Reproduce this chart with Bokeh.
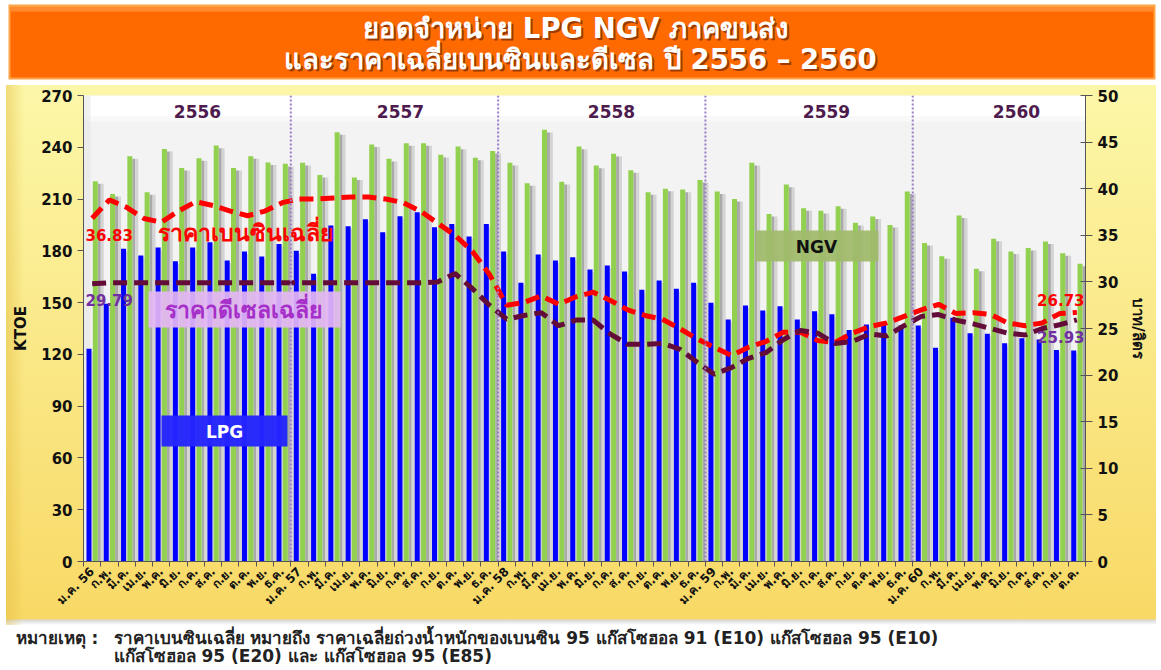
import math
from bokeh.plotting import figure
from bokeh.layouts import column
from bokeh.models import (Range1d, LinearAxis, FixedTicker, Label, BoxAnnotation,
                          Span, ColumnDataSource)
from bokeh.core.properties import value
from bokeh.embed import file_html
from bokeh.resources import INLINE

# ---------------- data ----------------
month_labels = [
    "ม.ค. 56", "ก.พ.", "มี.ค.", "เม.ย.", "พ.ค.", "มิ.ย.", "ก.ค.", "ส.ค.", "ก.ย.", "ต.ค.", "พ.ย.", "ธ.ค.",
    "ม.ค. 57", "ก.พ.", "มี.ค.", "เม.ย.", "พ.ค.", "มิ.ย.", "ก.ค.", "ส.ค.", "ก.ย.", "ต.ค.", "พ.ย.", "ธ.ค.",
    "ม.ค. 58", "ก.พ.", "มี.ค.", "เม.ย.", "พ.ค.", "มิ.ย.", "ก.ค.", "ส.ค.", "ก.ย.", "ต.ค.", "พ.ย.", "ธ.ค.",
    "ม.ค. 59", "ก.พ.", "มี.ค.", "เม.ย.", "พ.ค.", "มิ.ย.", "ก.ค.", "ส.ค.", "ก.ย.", "ต.ค.", "พ.ย.", "ธ.ค.",
    "ม.ค. 60", "ก.พ.", "มี.ค.", "เม.ย.", "พ.ค.", "มิ.ย.", "ก.ค.", "ส.ค.", "ก.ย.", "ต.ค.",
]
year_labels = ["2556", "2557", "2558", "2559", "2560"]

lpg = [
    123.2, 149.3, 181.2, 177.3, 181.9, 174.0, 181.9, 185.0, 174.4, 179.6, 176.7, 184.0,
    180.0, 166.7, 194.7, 194.3, 198.3, 190.8, 200.0, 202.4, 193.7, 195.6, 188.3, 195.6,
    179.6, 161.5, 177.9, 174.4, 176.3, 169.2, 171.5, 168.0, 157.4, 162.8, 158.0, 161.5,
    149.9, 140.2, 148.3, 145.4, 147.9, 140.2, 145.0, 143.3, 134.2, 137.3, 137.3, 136.7,
    136.7, 123.8, 141.2, 132.3, 131.9, 126.5, 129.4, 128.6, 122.6, 122.2,
]
ngv = [
    220.3, 213.0, 234.8, 214.0, 239.0, 228.0, 233.7, 241.0, 228.0, 234.8, 231.2, 230.4,
    231.0, 224.0, 248.7, 222.5, 241.6, 233.3, 242.4, 242.4, 235.6, 240.4, 234.0, 237.9,
    231.0, 219.2, 250.1, 220.0, 240.4, 229.4, 236.2, 226.7, 214.0, 216.0, 215.5, 221.1,
    214.4, 210.1, 231.0, 201.4, 218.4, 204.7, 203.2, 205.9, 196.2, 199.9, 195.0, 214.4,
    184.6, 176.9, 200.5, 169.6, 187.0, 179.6, 181.7, 185.4, 178.6, 172.5,
]
gasoline = [
    36.83, 38.8, 38.0, 36.8, 36.4, 37.6, 38.6, 38.2, 37.6, 37.1, 37.6, 38.5,
    38.9, 38.9, 39.0, 39.1, 39.1, 38.9, 38.5, 37.6, 36.3, 35.0, 33.3, 30.8,
    27.5, 27.8, 28.5, 27.6, 28.4, 28.9, 28.0, 27.0, 26.4, 26.0, 25.0, 23.9,
    23.0, 22.1, 23.0, 23.6, 24.6, 24.6, 23.7, 23.5, 24.5, 25.2, 25.6, 26.3,
    27.0, 27.6, 26.6, 26.7, 26.5, 25.6, 25.3, 25.6, 26.6, 26.73,
]
diesel = [
    29.79, 29.9, 29.9, 29.9, 29.9, 29.9, 29.9, 29.9, 29.9, 29.9, 29.9, 29.9,
    29.9, 29.9, 29.9, 29.9, 29.9, 29.9, 29.9, 29.9, 30.0, 30.9, 29.3, 27.5,
    26.0, 26.4, 26.7, 25.3, 25.9, 25.9, 24.4, 23.3, 23.3, 23.4, 22.8, 21.4,
    20.1, 20.8, 21.8, 22.4, 23.8, 24.8, 24.5, 23.4, 23.6, 24.4, 24.2, 25.3,
    26.3, 26.5, 25.9, 25.5, 25.0, 24.5, 24.3, 25.0, 25.4, 25.93,
]

title_lines = ["ยอดจำหน่าย LPG  NGV ภาคขนส่ง", "และราคาเฉลี่ยเบนซินและดีเซล ปี 2556 – 2560"]
note_head = "หมายเหตุ :"
note_lines = ["ราคาเบนซินเฉลี่ย หมายถึง ราคาเฉลี่ยถ่วงน้ำหนักของเบนซิน 95  แก๊สโซฮอล 91 (E10) แก๊สโซฮอล 95 (E10)",
              "แก๊สโซฮอล 95 (E20)  และ แก๊สโซฮอล 95 (E85)"]

FONT = "DejaVu Sans"
W = 1161
TOP_H, MAIN_H, NOTE_H = 85, 540, 45
ML, MR, MT, MB = 83, 76, 10, 64
n = len(month_labels)
xs = list(range(n))

# ---------------- title strip ----------------
t = figure(width=W, height=TOP_H, x_range=Range1d(0, W), y_range=Range1d(TOP_H, 0),
           output_backend="svg", toolbar_location=None, min_border=0,
           x_axis_location=None, y_axis_location=None)
t.frame_align = False
t.grid.visible = False
t.outline_line_color = None
t.background_fill_color = "white"
t.border_fill_color = "white"
t.quad(left=[8], right=[1155], top=[4], bottom=[79], fill_color="#FFA347", line_color=None)
t.quad(left=[10], right=[1153], top=[7], bottom=[77], fill_color="#FF6A00", line_color=None)
t.quad(left=[10], right=[1153], top=[7], bottom=[11], fill_color="#FF8A30", line_color=None)
for (yy, txt) in [(27, title_lines[0]), (58, title_lines[1])]:
    t.text(x=[582], y=[yy + 2], text=[txt], text_font=value(FONT), text_font_size="27.5px",
           text_font_style="bold", text_color="#7A2C00", text_alpha=0.75,
           text_align="center", text_baseline="middle")
    t.text(x=[580], y=[yy], text=[txt], text_font=value(FONT), text_font_size="27.5px",
           text_font_style="bold", text_color="white", text_align="center", text_baseline="middle")

# ---------------- main chart ----------------
p = figure(width=W, height=MAIN_H, x_range=Range1d(-0.5, n - 0.5), y_range=Range1d(0, 270),
           output_backend="svg", toolbar_location=None,
           min_border_left=ML, min_border_right=MR, min_border_top=MT, min_border_bottom=MB)
p.frame_align = False
p.outline_line_color = None
p.border_fill_color = None
p.background_fill_color = "#F3F3F3"
p.styles = {"background": (
    "linear-gradient(to right, #FFFFFF 0px, #FFFFFF 6px, rgba(0,0,0,0) 6px), "
    "linear-gradient(to left, #FFFFFF 0px, #FFFFFF 5px, rgba(0,0,0,0) 5px), "
    "linear-gradient(to right, rgba(225,185,60,0.45) 6px, rgba(225,185,60,0) 24px), "
    "linear-gradient(to bottom, #FCF7A8 0px, #F8D966 534px, #D8D8D8 535px, #FFFFFF 540px)")}
p.xgrid.visible = False
p.ygrid.visible = False
p.extra_y_ranges = {"price": Range1d(0, 50)}

FRAME_BOTTOM = TOP_H + MAIN_H - MB   # page y of x axis (561)

def sx(px):
    return px - ML
def sy(py):
    return FRAME_BOTTOM - py

def box(l, r, tp, b, color, alpha=1.0, level="image"):
    ba = BoxAnnotation(left=sx(l), right=sx(r), top=sy(tp), bottom=sy(b),
                       left_units="screen", right_units="screen", top_units="screen", bottom_units="screen",
                       fill_color=color, fill_alpha=alpha, line_color=None, level=level)
    p.add_layout(ba)
    return ba

# back wall shading
box(83, 1085, 95, 116, "#FFFFFF")
box(83, 1085, 116, 121, "#F9F9F9")
box(83, 90, 95, 561, "#E6E6E6", 0.6)

# ---------------- bars ----------------
src = ColumnDataSource(dict(
    xb=[x - 0.182 for x in xs], xg=[x + 0.183 for x in xs],
    xs0=[x + 0.0 for x in xs], xs1=[x + 0.414 for x in xs], xs2=[x + 0.585 for x in xs],
    lpg=lpg, ngv=ngv,
    lpg_s=[v - 1.5 for v in lpg], ngv_s=[v - 1.5 for v in ngv]))

p.vbar(x="xs1", top="ngv_s", width=0.17, source=src, fill_color="#A9A9A9", line_color=None)
p.vbar(x="xs2", top="ngv_s", width=0.17, source=src, fill_color="#D4D4D4", line_color=None)
p.vbar(x="xs0", top="lpg_s", width=0.08, source=src, fill_color="#D2D2D2", line_color=None)
p.vbar(x="xb", top="lpg", width=0.29, source=src, fill_color="#0000FF", line_color=None)
p.vbar(x="xg", top="ngv", width=0.29, source=src, fill_color="#92D050", line_color=None)

for b in [11.5, 23.5, 35.5, 47.5]:
    p.add_layout(Span(location=b, dimension="height", line_color="#9A7CCB", line_width=2,
                      line_dash="2 2", level="glyph"))

# ---------------- price lines ----------------
p.line(xs, gasoline, y_range_name="price", line_color="#FF0000", line_width=5, line_dash="14 7")
p.line(xs, diesel, y_range_name="price", line_color="#630C3A", line_width=5, line_dash="14 7")

# ---------------- axes ----------------
ya = p.yaxis[0]
ya.ticker = FixedTicker(ticks=list(range(0, 271, 30)))
ya.axis_label = "KTOE"
ra = LinearAxis(y_range_name="price", ticker=FixedTicker(ticks=list(range(0, 51, 5))))
ra.axis_label = "บาท/ลิตร"
p.add_layout(ra, "right")
for ax in (ya, ra):
    ax.axis_label_text_font = FONT
    ax.axis_label_text_font_style = "bold"
    ax.axis_label_text_font_size = "15px"
    ax.axis_label_text_color = "#111111"
    ax.major_label_text_font = FONT
    ax.major_label_text_font_style = "bold"
    ax.major_label_text_font_size = "15px"
    ax.major_label_text_color = "#111111"
    ax.minor_tick_line_color = None
    ax.axis_line_color = "#555555"
    ax.major_tick_line_color = "#555555"
ya.axis_label_standoff = 8
ya.major_tick_out = 6
ya.major_tick_in = 0
ra.axis_label_standoff = 8
ra.major_tick_out = 7
ra.major_tick_in = 5

xa = p.xaxis[0]
xa.ticker = FixedTicker(ticks=xs, minor_ticks=[x - 0.5 for x in xs] + [n - 0.5])
xa.major_label_overrides = {i: lab for i, lab in enumerate(month_labels)}
xa.major_label_orientation = math.pi / 4
xa.major_label_text_font = FONT
xa.major_label_text_font_style = "bold"
xa.major_label_text_font_size = "12px"
xa.major_label_text_color = "#111111"
xa.major_label_standoff = 3
xa.major_tick_in = 0
xa.major_tick_out = 0
xa.minor_tick_in = 0
xa.minor_tick_out = 5
xa.minor_tick_line_color = "#555555"
xa.axis_line_color = "#555555"

# ---------------- annotations ----------------
def lab(px, py, text, size, color, align="center", baseline="middle", alpha=1.0):
    L = Label(x=sx(px), y=sy(py), x_units="screen", y_units="screen", text=text,
              text_font=FONT, text_font_size=size, text_font_style="bold",
              text_color=color, text_align=align, text_baseline=baseline, text_alpha=alpha)
    p.add_layout(L)
    return L

for yl, cx in zip(year_labels, [197, 400, 611, 826, 1016]):
    lab(cx, 111, yl, "17px", "#4E1B4E")

box(148, 340, 291, 327, "#E4B6F4", 0.92, level="annotation")
box(161, 287, 415, 446, "#2525FF", 0.97, level="annotation")
box(755, 878, 230, 261, "#A0BA6C", 0.95, level="annotation")
lab(245, 232, "ราคาเบนซินเฉลี่ย", "23px", "#FF0000")
lab(243, 309, "ราคาดีเซลเฉลี่ย", "23px", "#A52FC8")
lab(224, 431, "LPG", "17px", "white")
lab(816, 246, "NGV", "17px", "#111111")

lab(85, 234, "%.2f" % gasoline[0], "15px", "#FF0000", align="left")
lab(85, 299, "%.2f" % diesel[0], "15px", "#7030A0", align="left")
lab(1084, 299, "%.2f" % gasoline[-1], "15px", "#FF0000", align="right")
lab(1084, 336, "%.2f" % diesel[-1], "15px", "#7030A0", align="right")

# ---------------- note strip ----------------
nf = figure(width=W, height=NOTE_H, x_range=Range1d(0, W), y_range=Range1d(NOTE_H, 0),
            output_backend="svg", toolbar_location=None, min_border=0,
            x_axis_location=None, y_axis_location=None)
nf.frame_align = False
nf.grid.visible = False
nf.outline_line_color = None
nf.background_fill_color = "white"
nf.border_fill_color = "white"
nf.text(x=[15], y=[12], text=[note_head], text_font=value(FONT), text_font_size="17px",
        text_font_style="bold", text_color="#222222", text_align="left", text_baseline="middle")
nf.text(x=[113, 113], y=[12, 30], text=note_lines, text_font=value(FONT), text_font_size="17px",
        text_font_style="bold", text_color="#222222", text_align="left", text_baseline="middle")

layout = column(t, p, nf, spacing=0)
open("out.html", "w").write(file_html(layout, INLINE))
